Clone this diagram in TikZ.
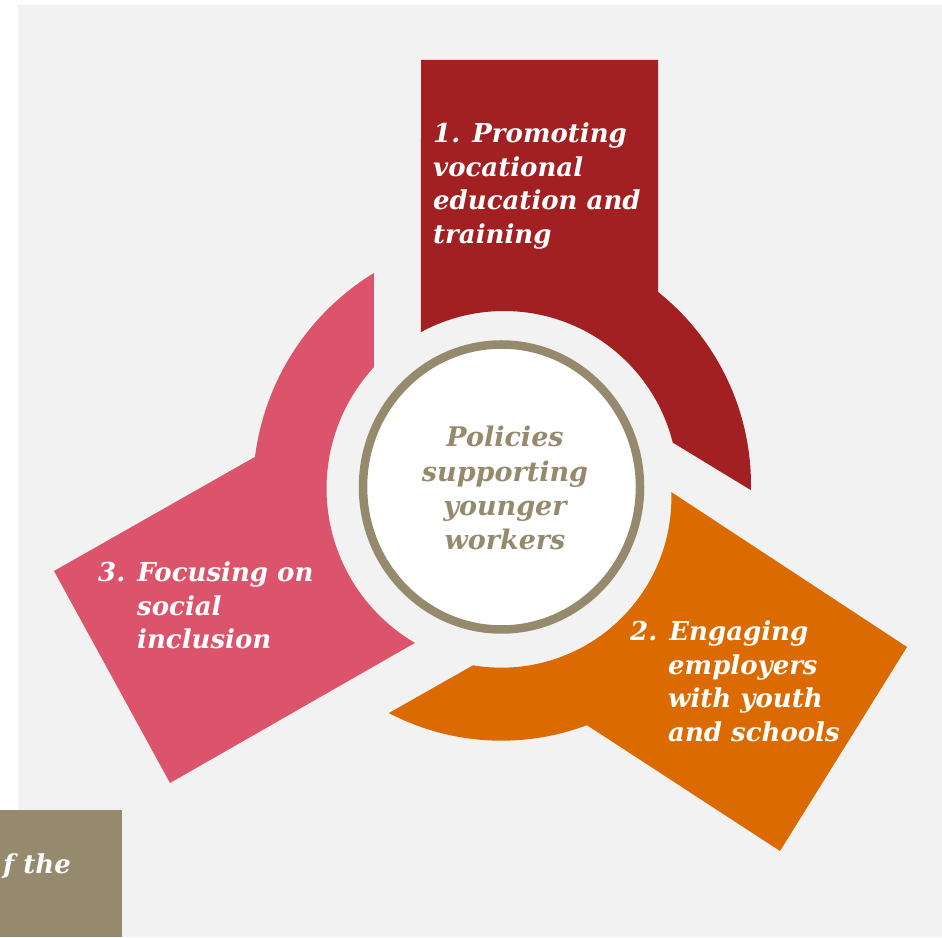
\documentclass[tikz,border=0pt]{standalone}
\usepackage{fontspec}
\setmainfont{DejaVu Serif}
\definecolor{bgc}{HTML}{F2F2F2}
\definecolor{redc}{HTML}{A21F22}
\definecolor{orangec}{HTML}{DB6A00}
\definecolor{pinkc}{HTML}{DC546B}
\definecolor{tanc}{HTML}{968A6E}
\tikzset{
  lbl/.style={inner sep=0pt, text=white, font=\fontsize{26}{33.5}\selectfont\bfseries\itshape},
  ctr/.style={inner sep=0pt, text=tanc, font=\fontsize{27}{34.3}\selectfont\bfseries\itshape}
}
\begin{document}
\begin{tikzpicture}[x=1pt,y=1pt]
\useasboundingbox (0,0) rectangle (942,937);
\fill[bgc] (18,0) rectangle (942,932);
\fill[tanc] (0,0) rectangle (122,127);
% red petal
\fill[redc, shift={(504,452)}]
  (-83,425) -- (154,425) -- (51.4:247)
  arc[start angle=51.4, end angle=-1.2, radius=247]
  -- (14.1:174)
  arc[start angle=14.1, end angle=118.5, radius=174] -- cycle;
% orange petal
\fill[orangec, shift={(501.4,439.3)}]
  (405.6,-149.3) -- (278.6,-353.3) -- (-69.4:243)
  arc[start angle=-69.4, end angle=-117.6, radius=243]
  -- (-99.6:170)
  arc[start angle=-99.6, end angle=1.9, radius=170] -- cycle;
% pink petal
\fill[pinkc, shift={(505.5,448.5)}]
  (-335.5,-294.5) -- (-451.5,-82.5) -- (172.8:252.5)
  arc[start angle=172.8, end angle=121.4, radius=252.5]
  -- (137.3:179)
  arc[start angle=137.3, end angle=239.6, radius=179] -- cycle;
\draw[tanc, line width=8.5pt, fill=white] (501.5,450) ellipse[x radius=138.5, y radius=142.5];
\node[ctr, anchor=base] (center) at (505,490)
  {\begin{tabular}[t]{@{}c@{}}Policies\\supporting\\younger\\workers\end{tabular}};
\node[lbl, anchor=base west] (one) at (433,794)
  {\begin{tabular}[t]{@{}l@{}}1. Promoting\\vocational\\education and\\training\end{tabular}};
\node[lbl, anchor=base west] (two) at (630,296)
  {\begin{tabular}[t]{@{}l@{}}2. Engaging\\\hspace*{38pt}employers\\\hspace*{38pt}with youth\\\hspace*{38pt}and schools\end{tabular}};
\node[lbl, anchor=base west] (three) at (98,355)
  {\begin{tabular}[t]{@{}l@{}}3. Focusing on\\\hspace*{39pt}social\\\hspace*{39pt}inclusion\end{tabular}};
\node[lbl, anchor=base west] (cut) at (3,64) {f the};
\end{tikzpicture}
\end{document}
